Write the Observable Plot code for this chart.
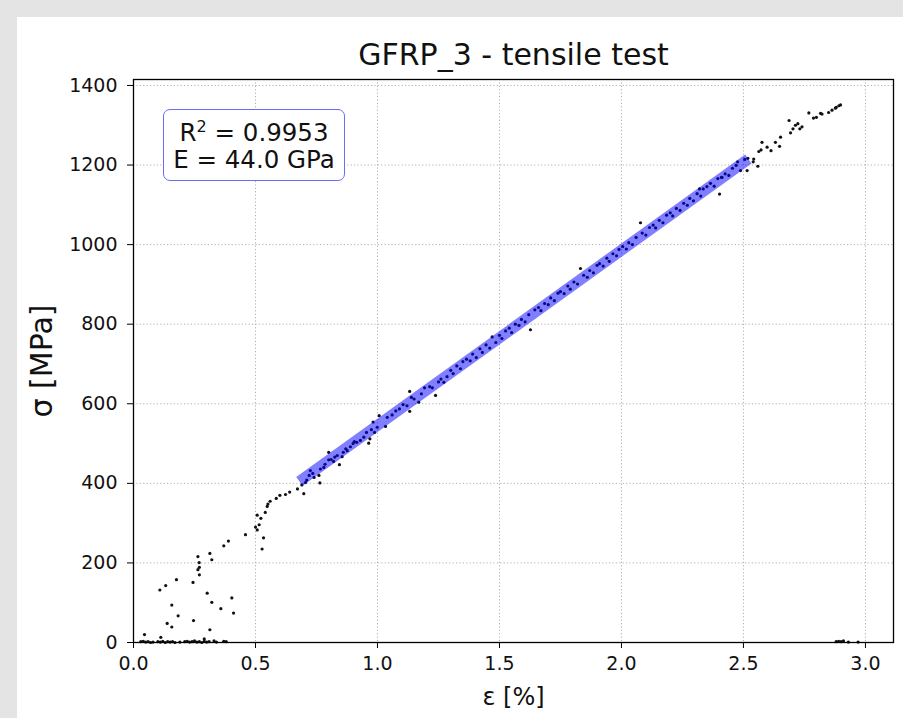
<!DOCTYPE html>
<html><head><meta charset="utf-8">
<script src="https://cdn.jsdelivr.net/npm/d3@7"></script>
<script src="https://cdn.jsdelivr.net/npm/@observablehq/plot@0.6"></script>
<style>
html,body{margin:0;padding:0}
body{background:#e4e4e4;width:903px;height:718px;overflow:hidden;position:relative;font-family:"DejaVu Sans",sans-serif}
#panel{position:absolute;left:17px;top:17px;width:886px;height:701px;background:#fff}
#legend{position:absolute;left:163px;top:109px;width:182px;height:72px;border:1.5px solid #6c6cf5;border-radius:7px;background:#fff;text-align:center;font-size:24.5px;line-height:27px;padding-top:9px;box-sizing:border-box;color:#111;white-space:nowrap}
#legend sup{font-size:16px;line-height:0;vertical-align:9px}
</style>
</head><body>
<div id="panel"></div>
<div id="legend"></div>
<script>
// ---- data ----
const title = "GFRP_3 - tensile test";
const xLabel = "ε [%]";
const yLabel = "σ [MPa]";
const r2Text = "0.9953";
const eText = "44.0 GPa";
const xTicks = [0, 0.5, 1.0, 1.5, 2.0, 2.5, 3.0];
const yTicks = [0, 200, 400, 600, 800, 1000, 1200, 1400];

// points lying on the zero-stress line (start and after failure)
const zeroStrain = [0.03,0.04,0.05,0.06,0.07,0.08,0.10,0.11,0.12,0.13,0.14,0.15,0.16,0.17,0.19,0.21,0.22,0.23,0.24,0.25,0.26,0.27,0.28,0.29,0.30,0.31,0.33,0.34,0.37,0.38,2.88,2.89,2.90,2.91,2.93,2.97];
const zeroStress = [2,3,1,2,0,1,2,1,3,0,2,1,2,0,1,2,3,1,2,4,1,2,0,3,1,2,4,1,3,2,2,3,2,4,1,1];

// toe region
const toeStrain = [0.045,0.108,0.112,0.132,0.138,0.157,0.157,0.176,0.183,0.244,0.246,0.264,0.264,0.269,0.270,0.270,0.290,0.302,0.313,0.313,0.321,0.321,0.358,0.370,0.389,0.403,0.410,0.459,0.500,0.507,0.507,0.515,0.522,0.527,0.533,0.540,0.548,0.551,0.560,0.585,0.600,0.623,0.640,0.672,0.690];
const toeStress = [20,132,13,143,48,94,39,158,67,151,55,216,183,201,189,170,9,124,224,32,208,101,85,243,255,112,74,271,290,283,320,296,312,235,263,327,342,348,355,362,370,372,378,386,396];

// linear region
const linStrain = [0.698,0.705,0.710,0.720,0.725,0.735,0.740,0.760,0.764,0.766,0.780,0.785,0.800,0.800,0.810,0.820,0.825,0.835,0.844,0.855,0.860,0.870,0.876,0.889,0.900,0.905,0.915,0.930,0.944,0.955,0.964,0.969,0.975,0.982,0.988,0.999,1.007,1.033,1.040,1.060,1.075,1.090,1.105,1.121,1.132,1.132,1.139,1.150,1.169,1.180,1.193,1.214,1.225,1.238,1.250,1.260,1.272,
1.285,1.300,1.310,1.325,1.340,1.350,1.365,1.380,1.390,1.405,1.420,1.430,1.445,1.460,1.470,1.485,1.500,1.510,1.525,1.540,1.550,1.565,1.580,1.590,1.605,1.620,1.627,1.645,1.660,1.670,1.685,1.700,1.710,1.725,1.740,1.750,1.765,1.780,1.790,1.805,1.820,1.832,1.845,1.860,1.870,1.885,1.900,1.910,1.925,1.940,1.950,1.965,1.980,1.990,2.005,2.020,2.030,2.045,2.060,2.078,2.085,2.100,2.115,2.130,2.140,2.155,2.170,2.185,2.200,2.210,2.225,2.240,2.255,2.270,2.280,2.295,2.310,2.320,2.325,2.335,2.350,2.365,2.380,2.395,2.402,2.410,2.412,2.425,2.440,2.455,2.470,2.476,2.488,2.505,2.515];
const linStress = [374,402,408,420,432,425,415,420,401,436,440,448,478,459,460,455,466,470,447,467,478,487,482,492,500,505,503,508,516,528,501,512,535,554,528,541,570,543,566,572,582,587,598,595,581,631,616,612,604,625,640,643,640,621,655,662,654,
668,684,676,695,688,706,712,708,725,716,738,729,748,740,768,754,772,764,783,790,779,800,797,812,806,824,786,836,842,834,852,849,866,859,878,882,877,896,888,906,901,940,923,918,935,929,948,952,946,966,958,977,972,988,995,989,1005,1000,1018,1055,1029,1024,1043,1049,1042,1061,1055,1074,1080,1072,1091,1086,1104,1099,1116,1110,1128,1140,1122,1140,1146,1154,1147,1166,1127,1169,1169,1178,1174,1192,1199,1208,1186,1214,1186];

// after the fitted range, up to failure
const tailStrain = [2.518,2.540,2.542,2.559,2.563,2.572,2.576,2.597,2.613,2.631,2.648,2.652,2.687,2.693,2.703,2.713,2.723,2.731,2.740,2.768,2.787,2.799,2.816,2.822,2.849,2.863,2.877,2.880,2.891,2.898];
const tailStress = [1217,1208,1215,1197,1234,1238,1257,1245,1236,1257,1247,1270,1312,1281,1291,1300,1304,1291,1296,1331,1318,1320,1330,1328,1332,1338,1343,1345,1349,1351];

// linear fit (E = 44.0 GPa) over the fitted strain range
const fitStrain = [0.68, 2.52];
const fitStress = [405, 1215];

// ---- build tables ----
const pts = [];
const add = (xs, ys) => xs.forEach((x, i) => pts.push({strain: x, stress: ys[i]}));
add(zeroStrain, zeroStress);
add(toeStrain, toeStress);
add(linStrain, linStress);
add(tailStrain, tailStress);
const fit = fitStrain.map((x, i) => ({strain: x, stress: fitStress[i]}));

const gridStyle = {stroke: "#b0b0b0", strokeOpacity: 1, strokeWidth: 1, strokeDasharray: "1.2,2.2"};

const chart = Plot.plot({
  width: 886,
  height: 701,
  marginLeft: 116,
  marginTop: 62,
  marginRight: 10,
  marginBottom: 76,
  style: {fontFamily: "DejaVu Sans, sans-serif", color: "#111", background: "transparent", overflow: "visible"},
  x: {domain: [0, 3.115]},
  y: {domain: [0, 1415]},
  marks: [
    Plot.gridX(xTicks, gridStyle),
    Plot.gridY(yTicks, gridStyle),
    Plot.dot(pts, {x: "strain", y: "stress", r: 1.6, fill: "#111", stroke: null}),
    Plot.line(fit, {x: "strain", y: "stress", stroke: "blue", strokeOpacity: 0.5, strokeWidth: 11, strokeLinecap: "butt"}),
    Plot.frame({stroke: "#000", strokeWidth: 1.3}),
    Plot.axisX(xTicks, {tickFormat: d3.format(".1f"), label: null, fontSize: 19, tickSize: 6, tickPadding: 8, stroke: "#000"}),
    Plot.axisY(yTicks, {tickFormat: d => String(d), label: null, fontSize: 19, tickSize: 6, tickPadding: 10, stroke: "#000"}),
    Plot.text([title], {frameAnchor: "top", lineAnchor: "middle", dy: -24, text: d => d, fontSize: 30, fill: "#111"}),
    Plot.text([xLabel], {frameAnchor: "bottom", lineAnchor: "middle", dy: 55, text: d => d, fontSize: 24, fill: "#111"}),
    Plot.text([yLabel], {frameAnchor: "left", textAnchor: "middle", lineAnchor: "middle", dx: -91, rotate: -90, text: d => d, fontSize: 30, fill: "#111"})
  ]
});
document.getElementById("panel").appendChild(chart);

const lg = document.getElementById("legend");
lg.innerHTML = "R<sup>2</sup> = " + r2Text + "<br>E = " + eText;
</script>
</body></html>
